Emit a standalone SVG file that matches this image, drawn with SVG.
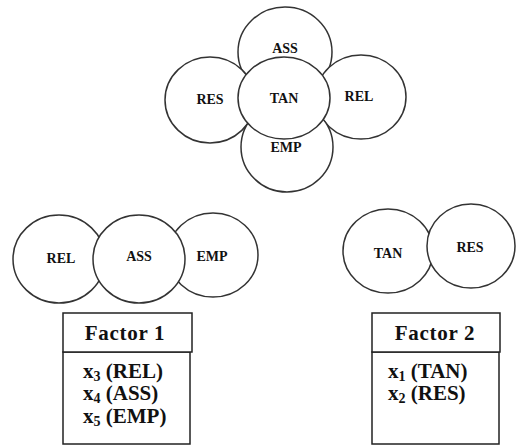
<svg xmlns="http://www.w3.org/2000/svg" width="518" height="446" viewBox="0 0 518 446">
<style>
.c{fill:#fff;stroke:#333;stroke-width:1.5}
text{font-family:'Liberation Serif','DejaVu Serif',serif;font-weight:700;fill:#111}
.l{font-size:14px;text-anchor:middle}
.b{fill:#fff;stroke:#222;stroke-width:1.5}
.t{font-size:21px}
.h{letter-spacing:0.7px;text-anchor:middle}
</style>
<rect width="518" height="446" fill="#fff"/>
<g id="cluster-top">
<g id="top-ASS"><ellipse class="c" cx="285" cy="52" rx="47" ry="45"/><text class="l" x="285" y="53">ASS</text></g>
<g id="top-RES"><ellipse class="c" cx="210" cy="100" rx="45" ry="43"/><text class="l" x="210" y="104">RES</text></g>
<g id="top-REL"><ellipse class="c" cx="361" cy="97" rx="45" ry="42"/><text class="l" x="359" y="101">REL</text></g>
<g id="top-EMP"><ellipse class="c" cx="287" cy="147" rx="46" ry="45"/><text class="l" x="286" y="152">EMP</text></g>
<g id="top-TAN"><ellipse class="c" cx="284" cy="98" rx="46" ry="41"/><text class="l" x="284" y="103">TAN</text></g>
</g>
<g id="cluster-factor1">
<g id="f1-REL"><ellipse class="c" cx="59" cy="259" rx="46" ry="44"/><text class="l" x="61" y="263">REL</text></g>
<g id="f1-EMP"><ellipse class="c" cx="213" cy="255" rx="45" ry="42"/><text class="l" x="212" y="261">EMP</text></g>
<g id="f1-ASS"><ellipse class="c" cx="139" cy="259" rx="46" ry="44"/><text class="l" x="139" y="261">ASS</text></g>
</g>
<g id="cluster-factor2">
<g id="f2-TAN"><ellipse class="c" cx="388" cy="251" rx="45" ry="42"/><text class="l" x="388" y="258">TAN</text></g>
<g id="f2-RES"><ellipse class="c" cx="471" cy="246" rx="44" ry="42"/><text class="l" x="470" y="252">RES</text></g>
</g>
<g id="factor1-box">
<rect class="b" x="63" y="352" width="127" height="92"/>
<rect class="b" x="63" y="313" width="129" height="39"/>
<text class="t h" x="125" y="340">Factor 1</text>
<text class="t" x="83" y="378">x<tspan font-size="14" dy="3">3</tspan><tspan dy="-3"> (REL)</tspan></text>
<text class="t" x="83" y="400">x<tspan font-size="14" dy="3">4</tspan><tspan dy="-3"> (ASS)</tspan></text>
<text class="t" x="83" y="423">x<tspan font-size="14" dy="3">5</tspan><tspan dy="-3"> (EMP)</tspan></text>
</g>
<g id="factor2-box">
<rect class="b" x="372" y="352" width="127" height="92"/>
<rect class="b" x="372" y="313" width="128" height="39"/>
<text class="t h" x="435" y="340">Factor 2</text>
<text class="t" x="388" y="378">x<tspan font-size="14" dy="3">1</tspan><tspan dy="-3"> (TAN)</tspan></text>
<text class="t" x="388" y="400">x<tspan font-size="14" dy="3">2</tspan><tspan dy="-3"> (RES)</tspan></text>
</g>
</svg>
